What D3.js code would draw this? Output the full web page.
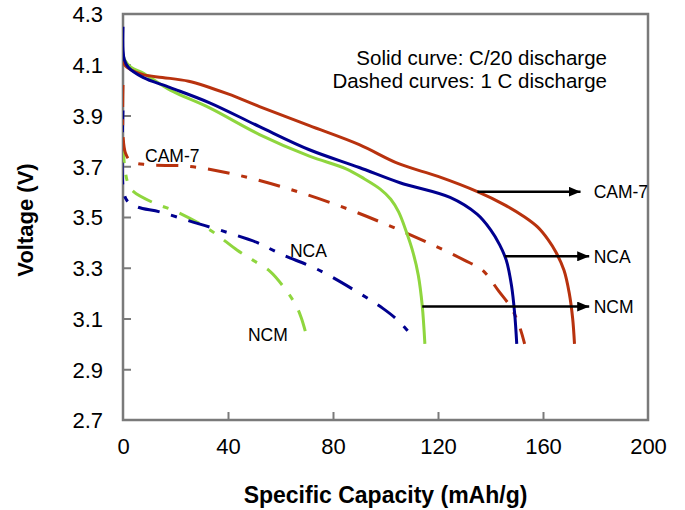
<!DOCTYPE html>
<html>
<head>
<meta charset="utf-8">
<script src="https://cdn.jsdelivr.net/npm/d3@7"></script>
<style>
  html, body { margin: 0; padding: 0; background: #fff; }
  svg { display: block; font-family: "Liberation Sans", Arial, sans-serif; }
</style>
</head>
<body>
<svg id="chart" width="685" height="510"></svg>
<script>
// Discharge curves: [specific capacity (mAh/g), voltage (V)]
// Solid lines: C/20 discharge
const cam7Slow = [[0,4.13],[0.6,4.10],[3,4.08],[8,4.06],[15,4.05],[25,4.035],[40,3.985],[52,3.935],[71,3.86],[90,3.785],[105,3.71],[120,3.66],[135,3.60],[145,3.55],[153,3.50],[158,3.46],[162,3.41],[165,3.36],[168,3.29],[170,3.20],[171.3,3.10],[172,3.0]];
const ncaSlow = [[0,4.25],[0,4.16],[0.5,4.12],[2,4.09],[7.6,4.05],[18,4.01],[33,3.95],[52,3.856],[71,3.765],[90,3.695],[105.5,3.635],[124.6,3.577],[135,3.51],[140,3.45],[143.5,3.39],[146,3.33],[148,3.23],[149.2,3.12],[150,3.0]];
const ncmSlow = [[0,4.14],[0.6,4.12],[3,4.09],[8,4.065],[18,4.0],[33,3.93],[52,3.825],[71,3.74],[85,3.69],[92,3.65],[98,3.61],[102,3.57],[105,3.52],[108,3.44],[110.5,3.36],[112.5,3.27],[114,3.15],[115,3.0]];
// Dash-dot lines: 1 C discharge
const cam7Fast = [[0,4.02],[0,3.82],[1,3.75],[3,3.72],[9,3.706],[25,3.70],[43,3.667],[64,3.608],[86,3.53],[105,3.45],[118,3.39],[130,3.33],[137,3.29],[143,3.21],[148,3.14],[151,3.07],[153,3.0]];
const ncaFast = [[0,3.92],[0,3.62],[1.5,3.565],[5.3,3.54],[14,3.52],[26.7,3.48],[39.5,3.44],[51,3.40],[55,3.38],[61,3.35],[74,3.294],[90,3.20],[99,3.14],[105,3.09],[111,3.02]];
const ncmFast = [[0,3.80],[0.6,3.70],[2,3.63],[4,3.60],[11.4,3.557],[20.6,3.52],[33,3.45],[43.4,3.37],[49.5,3.33],[56,3.286],[61,3.227],[66,3.15],[68,3.10],[70.5,3.01]];

const xTicks = [0, 40, 80, 120, 160, 200];
const yTicks = [2.7, 2.9, 3.1, 3.3, 3.5, 3.7, 3.9, 4.1, 4.3];

const colors = { cam7: "#b8320e", nca: "#00008f", ncm: "#8fd63e" };

const series = [
  { data: ncmFast, color: colors.ncm, dashed: true },
  { data: ncaFast, color: colors.nca, dashed: true },
  { data: cam7Fast, color: colors.cam7, dashed: true },
  { data: ncmSlow, color: colors.ncm, dashed: false },
  { data: cam7Slow, color: colors.cam7, dashed: false },
  { data: ncaSlow, color: colors.nca, dashed: false }
];

// Arrow annotations pointing from the C/20 curves to their names
const arrows = [
  { name: "CAM-7", from: 135, to: 174.3, v: 3.60 },
  { name: "NCA", from: 145.5, to: 177.6, v: 3.345 },
  { name: "NCM", from: 114, to: 177.6, v: 3.147 }
];
// Labels placed beside the 1 C curves (baseline positions)
const fastLabels = [
  { name: "CAM-7", x: 8.4, v: 3.716 },
  { name: "NCA", x: 63.6, v: 3.341 },
  { name: "NCM", x: 47.6, v: 3.011 }
];

const margin = { left: 123, right: 37, top: 14, bottom: 90 };
const W = 685, H = 510;
const svg = d3.select("#chart");

const x = d3.scaleLinear().domain([0, 200]).range([margin.left, W - margin.right]);
const y = d3.scaleLinear().domain([2.7, 4.3]).range([H - margin.bottom, margin.top]);

const defs = svg.append("defs");
defs.append("marker")
  .attr("id", "head")
  .attr("viewBox", "0 0 12 10")
  .attr("refX", 12).attr("refY", 5)
  .attr("markerUnits", "userSpaceOnUse")
  .attr("markerWidth", 12).attr("markerHeight", 10)
  .attr("orient", "auto")
  .append("path").attr("d", "M0,0 L12,5 L0,10 Z").attr("fill", "#000");

defs.append("clipPath").attr("id", "plotclip")
  .append("rect")
  .attr("x", x(0)).attr("y", y(4.3))
  .attr("width", x(200) - x(0)).attr("height", y(2.7) - y(4.3));

const frameColor = "#7a7a7a";

// Axes with inward ticks
const xAxis = d3.axisBottom(x).tickValues(xTicks).tickSizeInner(-8).tickSizeOuter(0).tickPadding(18)
  .tickFormat(d3.format("d"));
const gx = svg.append("g").attr("transform", `translate(0,${y(2.7)})`).call(xAxis);
const yAxis = d3.axisLeft(y).tickValues(yTicks).tickSizeInner(-8).tickSizeOuter(0).tickPadding(20)
  .tickFormat(d3.format(".1f"));
const gy = svg.append("g").attr("transform", `translate(${x(0)},0)`).call(yAxis);

[gx, gy].forEach(g => {
  g.select(".domain").remove();
  g.selectAll(".tick line").attr("stroke", frameColor).attr("stroke-width", 2);
  g.selectAll(".tick text").attr("fill", "#000").attr("font-size", 22)
    .attr("font-family", "Liberation Sans, Arial, sans-serif");
});
gx.selectAll(".tick").filter(d => d === 0 || d === 200).select("line").remove();
gy.selectAll(".tick").filter(d => d === 2.7 || d === 4.3).select("line").remove();
gy.selectAll(".tick text").attr("dy", "0.36em");

// Frame around the plotting area
svg.append("rect")
  .attr("x", x(0)).attr("y", y(4.3))
  .attr("width", x(200) - x(0)).attr("height", y(2.7) - y(4.3))
  .attr("fill", "none").attr("stroke", frameColor).attr("stroke-width", 2.5);

// Curves
const line = d3.line()
  .x(d => x(d[0])).y(d => y(d[1]))
  .curve(d3.curveCatmullRom.alpha(0.5));

svg.append("g").attr("clip-path", "url(#plotclip)")
  .selectAll("path")
  .data(series)
  .join("path")
  .attr("d", d => line(d.data))
  .attr("fill", "none")
  .attr("stroke", d => d.color)
  .attr("stroke-width", 3)
  .attr("stroke-linejoin", "round")
  .attr("stroke-dasharray", d => d.dashed ? "22,12,6,12" : null);

// Arrows and their labels
const ag = svg.append("g");
ag.selectAll("line")
  .data(arrows)
  .join("line")
  .attr("x1", d => x(d.from)).attr("x2", d => x(d.to))
  .attr("y1", d => y(d.v)).attr("y2", d => y(d.v))
  .attr("stroke", "#000").attr("stroke-width", 2.5)
  .attr("marker-end", "url(#head)");
ag.selectAll("text")
  .data(arrows)
  .join("text")
  .attr("x", x(179.3))
  .attr("y", d => y(d.v))
  .attr("dy", "0.36em")
  .attr("font-size", 17.5)
  .attr("fill", "#000")
  .text(d => d.name);

svg.append("g").selectAll("text")
  .data(fastLabels)
  .join("text")
  .attr("x", d => x(d.x))
  .attr("y", d => y(d.v))
  .attr("font-size", 17.5)
  .attr("fill", "#000")
  .text(d => d.name);

// Note on discharge rates
const note = svg.append("g").attr("font-size", 20.5).attr("fill", "#000").attr("text-anchor", "end");
note.append("text").attr("x", 607).attr("y", 65).text("Solid curve: C/20 discharge");
note.append("text").attr("x", 607).attr("y", 88).text("Dashed curves: 1 C discharge");

// Axis titles
svg.append("text")
  .attr("x", (x(0) + x(200)) / 2).attr("y", 503)
  .attr("text-anchor", "middle")
  .attr("font-size", 23).attr("font-weight", "bold")
  .text("Specific Capacity (mAh/g)");

svg.append("text")
  .attr("transform", `translate(33,${y(3.5) + 3}) rotate(-90)`)
  .attr("text-anchor", "middle")
  .attr("font-size", 22).attr("font-weight", "bold")
  .text("Voltage (V)");
</script>
</body>
</html>
